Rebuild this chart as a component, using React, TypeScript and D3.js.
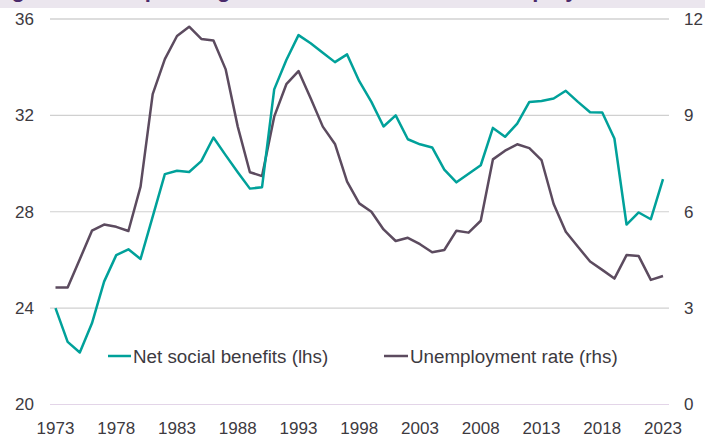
import React from "react";
import * as d3 from "d3";

const years: number[] = d3.range(1973, 2024);

const netSocialBenefits: number[] = [
  24.0, 22.6, 22.16, 23.37, 25.1, 26.2, 26.44, 26.04, 27.8, 29.56,
  29.7, 29.65, 30.1, 31.08, 30.35, 29.64, 28.96, 29.02, 33.08, 34.3,
  35.33, 34.99, 34.6, 34.21, 34.53, 33.42, 32.56, 31.54, 32.0, 31.01,
  30.8, 30.67, 29.75, 29.22, 29.58, 29.93, 31.48, 31.11, 31.66, 32.56,
  32.6, 32.7, 33.02, 32.56, 32.13, 32.12, 31.04, 27.47, 27.97, 27.69,
  29.35,
];

const unemploymentRate: number[] = [
  3.64, 3.64, 4.52, 5.41, 5.6, 5.53, 5.4, 6.78, 9.66, 10.75,
  11.47, 11.76, 11.38, 11.33, 10.44, 8.65, 7.23, 7.11, 8.96, 9.97,
  10.38, 9.53, 8.65, 8.11, 6.94, 6.26, 6.0, 5.45, 5.09, 5.19,
  4.99, 4.74, 4.81, 5.41, 5.35, 5.72, 7.63, 7.9, 8.1, 7.98,
  7.61, 6.24, 5.38, 4.91, 4.45, 4.19, 3.92, 4.65, 4.62, 3.88,
  4.0,
];

const xTickYears: number[] = [1973, 1978, 1983, 1988, 1993, 1998, 2003, 2008, 2013, 2018, 2023];
const leftTicks: number[] = [20, 24, 28, 32, 36];
const rightTicks: number[] = [0, 3, 6, 9, 12];

const titleText = "Figure 1: Net spending on social benefits and unemployment";
const legendLabels = ["Net social benefits (lhs)", "Unemployment rate (rhs)"];

const TEAL = "#00a19a";
const PURPLE = "#5c4b5f";
const TEXT = "#3d3a3f";
const FONT = "'Liberation Sans', Arial, sans-serif";

export default function App() {
  const W = 705;
  const H = 439;
  const x = d3.scaleLinear().domain([1973, 2023]).range([55.5, 663]);
  const yL = d3.scaleLinear().domain([20, 36]).range([404.5, 19]);
  const yR = d3.scaleLinear().domain([0, 12]).range([404.5, 19]);

  const lineL = d3
    .line<number>()
    .x((_, i) => x(years[i]))
    .y((d) => yL(d));
  const lineR = d3
    .line<number>()
    .x((_, i) => x(years[i]))
    .y((d) => yR(d));

  const gx0 = 50;
  const gx1 = 669;

  return (
    <svg
      width={W}
      height={H}
      style={{ position: "absolute", left: 0, top: 0, background: "#fff" }}
      fontFamily={FONT}
    >
      <rect x={0} y={0} width={W} height={8} fill="#ebe6ee" />
      <svg x={0} y={0} width={W} height={8} overflow="hidden">
        <text x={-8} y={-3} fontSize={22} fontWeight="bold" fill="#4a2a6a">
          {titleText}
        </text>
      </svg>

      {leftTicks.map((t, i) => (
        <line
          key={"g" + t}
          x1={gx0}
          x2={gx1}
          y1={yL(t)}
          y2={yL(t)}
          stroke={i === 0 ? "#e3d5e8" : i === leftTicks.length - 1 ? "#dddddd" : "#d0d0d0"}
          strokeWidth={i === leftTicks.length - 1 ? 2 : 1.2}
        />
      ))}

      {leftTicks.map((t) => (
        <text
          key={"l" + t}
          x={34}
          y={yL(t)}
          dy="0.35em"
          textAnchor="end"
          fontSize={17}
          fill={TEXT}
        >
          {t}
        </text>
      ))}
      {rightTicks.map((t) => (
        <text
          key={"r" + t}
          x={684}
          y={yR(t)}
          dy="0.35em"
          textAnchor="start"
          fontSize={17}
          fill={TEXT}
        >
          {t}
        </text>
      ))}
      {xTickYears.map((yr) => (
        <text
          key={"x" + yr}
          x={x(yr)}
          y={428}
          dy="0.35em"
          textAnchor="middle"
          fontSize={17}
          fill={TEXT}
        >
          {yr}
        </text>
      ))}

      <path d={lineR(unemploymentRate) || ""} fill="none" stroke={PURPLE} strokeWidth={2.5} strokeLinejoin="round" />
      <path d={lineL(netSocialBenefits) || ""} fill="none" stroke={TEAL} strokeWidth={2.5} strokeLinejoin="round" />

      <line x1={108} x2={131} y1={356} y2={356} stroke={TEAL} strokeWidth={2.5} />
      <text x={133} y={356} dy="0.35em" fontSize={18.8} fill={TEXT}>
        {legendLabels[0]}
      </text>
      <line x1={384} x2={408} y1={356} y2={356} stroke={PURPLE} strokeWidth={2.5} />
      <text x={410} y={356} dy="0.35em" fontSize={18.8} fill={TEXT}>
        {legendLabels[1]}
      </text>
    </svg>
  );
}
